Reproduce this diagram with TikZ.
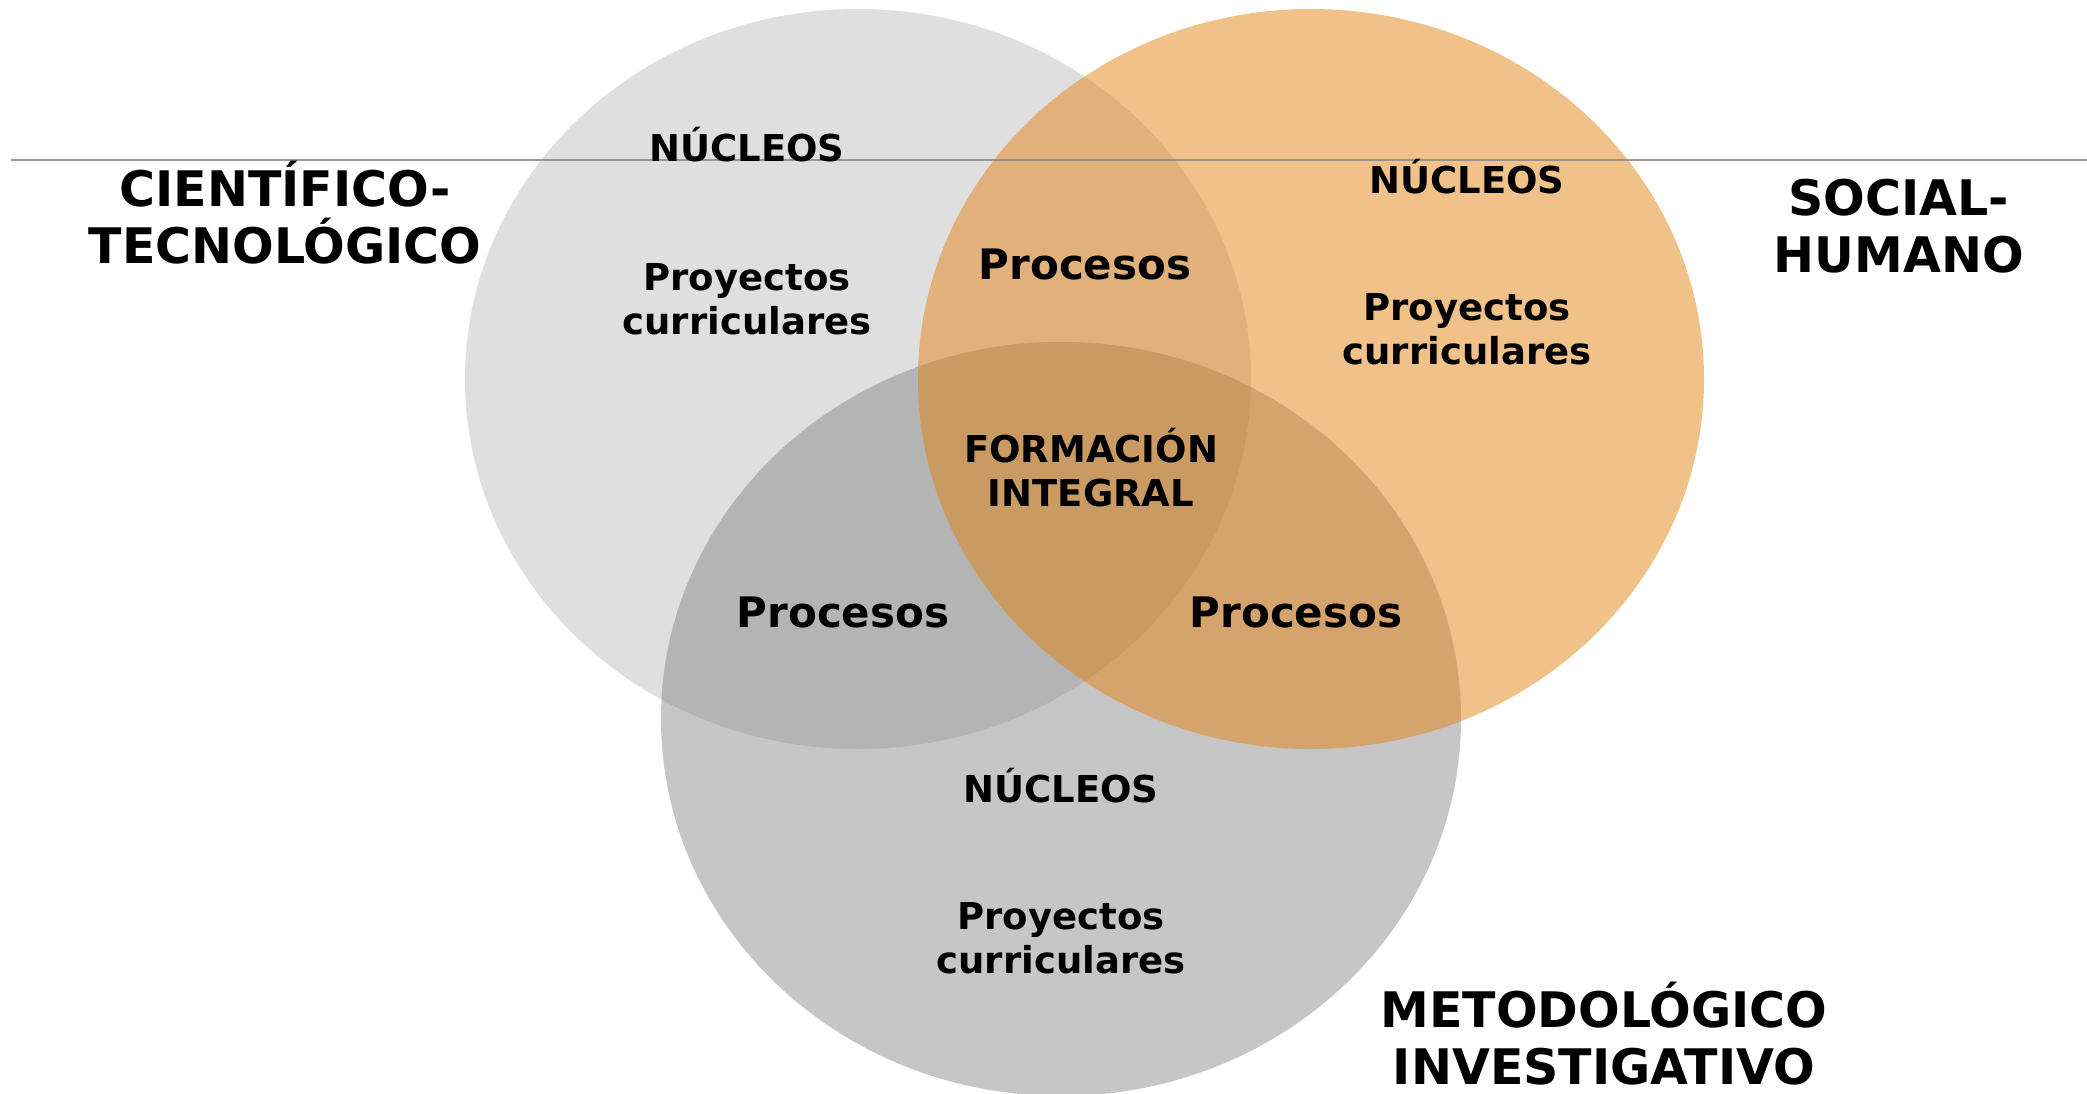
\documentclass[tikz,border=0pt]{standalone}
\usepackage{fontspec}
\setmainfont{DejaVu Sans}
\definecolor{cL}{HTML}{DFDFDF}
\definecolor{cR}{HTML}{F0C189}
\definecolor{cB}{HTML}{C6C6C6}
\definecolor{cLB}{HTML}{B4B4B4}
\definecolor{cLR}{HTML}{E2B07A}
\definecolor{cRB}{HTML}{D5A46C}
\definecolor{cLRB}{HTML}{C99B63}
\definecolor{lineC}{HTML}{8A8A8A}
\tikzset{
  big/.style={font=\fontsize{49}{57}\selectfont\bfseries, align=center, inner sep=0pt},
  mid/.style={font=\fontsize{42}{50}\selectfont\bfseries, align=center, inner sep=0pt},
  small/.style={font=\fontsize{37}{44}\selectfont\bfseries, align=center, inner sep=0pt},
}
\def\ellL{(858pt,-379pt) ellipse [x radius=393pt, y radius=370pt]}
\def\ellR{(1311pt,-379pt) ellipse [x radius=393pt, y radius=370pt]}
\def\ellB{(1061pt,-719pt) ellipse [x radius=400pt, y radius=377pt]}
\begin{document}
\begin{tikzpicture}[x=1pt,y=-1pt]
\useasboundingbox (0,0) rectangle (2087,1094);
\clip (0,0) rectangle (2087,1094);
% base ellipses
\fill[cL] \ellL;
\fill[cR] \ellR;
\fill[cB] \ellB;
% pairwise overlaps
\begin{scope}\clip \ellL; \fill[cLR] \ellR; \end{scope}
\begin{scope}\clip \ellL; \fill[cLB] \ellB; \end{scope}
\begin{scope}\clip \ellR; \fill[cRB] \ellB; \end{scope}
\begin{scope}\clip \ellL; \clip \ellR; \fill[cLRB] \ellB; \end{scope}
% horizontal rule
\coordinate (ruleA) at (11,160);
\coordinate (ruleB) at (2087,160);
\draw[lineC, line width=2.2pt, opacity=0.85] (ruleA) -- (ruleB);
% labels
\node[big] (ct) at (285,213) {CIENTÍFICO-\\TECNOLÓGICO};
\node[big] (sh) at (1899,226) {SOCIAL-\\HUMANO};
\node[big] (mi) at (1604,1034) {METODOLÓGICO\\INVESTIGATIVO};
\node[small] (nL) at (747,145) {NÚCLEOS};
\node[small] (pL) at (747,299) {Proyectos\\curriculares};
\node[small] (nR) at (1467,177) {NÚCLEOS};
\node[small] (pR) at (1467,329) {Proyectos\\curriculares};
\node[small] (nB) at (1061,786) {NÚCLEOS};
\node[small] (pB) at (1061,938) {Proyectos\\curriculares};
\node[small] (fi) at (1091,468) {FORMACIÓN\\INTEGRAL};
\node[mid] (prT) at (1085,264) {Procesos};
\node[mid] (prL) at (843,612) {Procesos};
\node[mid] (prR) at (1296,612) {Procesos};
\end{tikzpicture}
\end{document}
